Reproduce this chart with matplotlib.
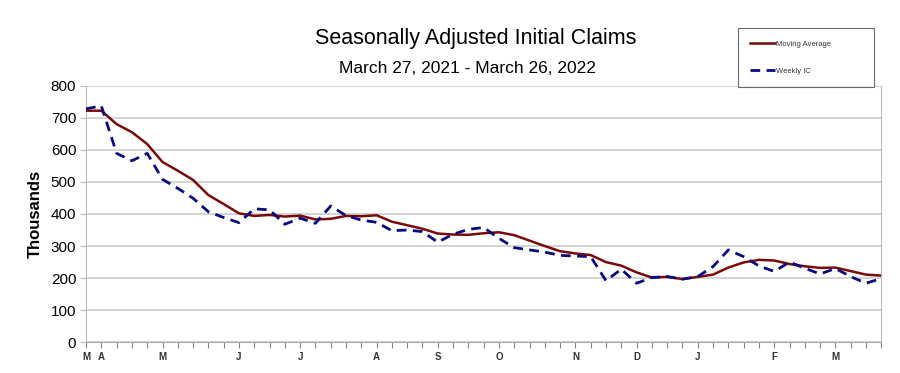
import matplotlib.pyplot as plt
import numpy as np

plt.rcParams['font.family'] = ['Liberation Sans', 'DejaVu Sans']

# weekly data, Mar 27 2021 - Mar 26 2022 (thousands)
moving_average = [722, 722, 680, 655, 618, 562, 535, 506, 459, 431,
                  402, 394, 397, 392, 395, 383, 385, 394, 393, 396,
                  376, 365, 354, 339, 336, 335, 340, 343, 334, 317,
                  300, 284, 277, 272, 250, 239, 218, 202, 204, 197,
                  204, 211, 233, 249, 257, 255, 244, 237, 232, 233,
                  222, 211, 208]
weekly_ic = [728, 737, 589, 566, 589, 508, 480, 449, 407, 389,
             373, 416, 413, 368, 387, 371, 425, 395, 381, 374,
             348, 350, 345, 312, 337, 352, 358, 324, 295, 288,
             281, 271, 269, 267, 192, 228, 184, 202, 205, 197,
             205, 236, 288, 267, 238, 221, 250, 231, 213, 230,
             205, 184, 199]
month_labels = {0: 'M', 1: 'A', 5: 'M', 10: 'J', 14: 'J', 19: 'A', 23: 'S',
                27: 'O', 32: 'N', 36: 'D', 40: 'J', 45: 'F', 49: 'M'}

weeks = np.arange(len(weekly_ic))

fig = plt.figure(figsize=(9, 3.73), dpi=100)
ax = fig.add_axes([0.0956, 0.0823, 0.8836, 0.688])

ax.plot(weeks, moving_average, color='#7a0a0a', lw=1.8, label='Moving Average', zorder=3)
ax.plot(weeks, weekly_ic, color='#0a0a80', lw=2.0, dashes=(3.5, 2.3),
        label='Weekly IC', zorder=3)

ax.set_xlim(0, len(weeks) - 1)
ax.set_ylim(0, 800)
ax.set_yticks(np.arange(0, 801, 100))
ax.set_xticks(weeks)
ax.set_xticklabels([month_labels.get(i, '') for i in weeks], fontsize=7, fontweight='bold',
                   color='#333333')
ax.tick_params(axis='x', length=4, width=0.8, color='#888888', pad=3)
ax.tick_params(axis='y', length=4, width=0.8, color='#bbbbbb', labelsize=11, pad=3)
ax.grid(axis='y', color='#cccccc', lw=1.2)
ax.set_axisbelow(True)
ax.spines['top'].set_visible(False)
ax.spines['left'].set_color('#bbbbbb')
ax.spines['right'].set_color('#bbbbbb')
ax.spines['bottom'].set_color('#aaaaaa')
ax.set_ylabel('Thousands', fontsize=12, fontweight='bold', labelpad=6)

fig.text(0.528, 0.897, 'Seasonally Adjusted Initial Claims', ha='center', va='center',
         fontsize=15.5)
fig.text(0.519, 0.817, 'March 27, 2021 - March 26, 2022', ha='center', va='center',
         fontsize=12.5)

leg = fig.legend(loc='upper left', bbox_to_anchor=(0.82, 0.764, 0.151, 0.161), mode='expand',
                 fontsize=5.5, frameon=True, fancybox=False, handlelength=3.2,
                 labelspacing=2.6, borderpad=1.6, handletextpad=0.2, borderaxespad=0)
leg.get_frame().set_edgecolor('#444444')
leg.get_frame().set_linewidth(0.8)
for txt in leg.get_texts():
    txt.set_color('#333333')

fig.savefig('out.png', dpi=100)
